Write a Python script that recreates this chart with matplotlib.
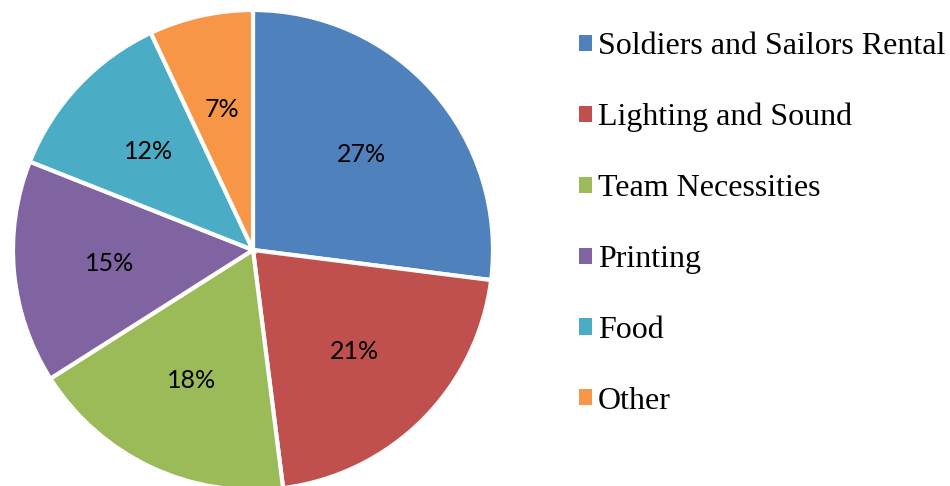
import matplotlib
matplotlib.use("Agg")
import matplotlib.pyplot as plt
from matplotlib.patches import Patch

categories = ["Soldiers and Sailors Rental", "Lighting and Sound", "Team Necessities",
              "Printing", "Food", "Other"]
values = [27, 21, 18, 15, 12, 7]
colors = ["#4F81BD", "#C0504D", "#9BBB59", "#8064A2", "#4BACC6", "#F79646"]

W, H = 950, 486
fig = plt.figure(figsize=(W / 100, H / 100), dpi=100)
cx, cy, r = 253, 250, 240
ax = fig.add_axes([(cx - r) / W, (H - cy - r) / H, 2 * r / W, 2 * r / H])

wedges, texts, autotexts = ax.pie(
    values, colors=colors, startangle=90, counterclock=False,
    autopct=lambda p: f"{p:.0f}%", pctdistance=0.6,
    wedgeprops=dict(edgecolor="white", linewidth=3),
    textprops=dict(fontsize=18, family="Lato", color="black"))
for w in wedges:
    w.set_clip_on(False)
ax.set_xlim(-1, 1)
ax.set_ylim(-1, 1)
ax.set_aspect("equal")
ax.axis("off")

handles = [Patch(facecolor=c, edgecolor="none") for c in colors]
fig.legend(handles, categories, loc="upper left", bbox_to_anchor=(579 / W, 1 - 32 / H),
           frameon=False, prop=dict(family="Liberation Serif", size=23),
           handlelength=0.4, handleheight=0.4, handletextpad=0.19,
           labelspacing=1.31, borderaxespad=0, borderpad=0)

fig.savefig("out.png", dpi=100)
